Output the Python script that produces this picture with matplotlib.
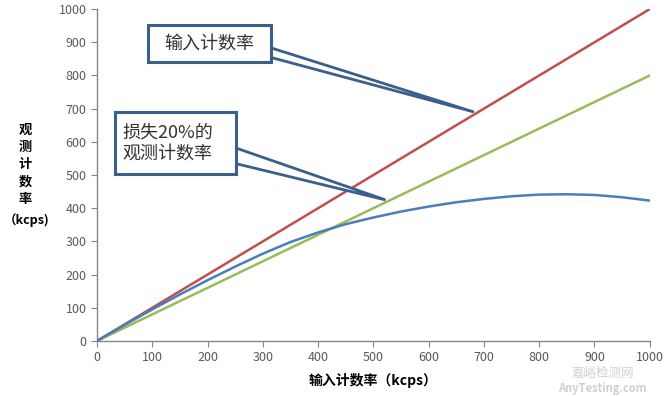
import matplotlib
matplotlib.use("Agg")
import matplotlib.pyplot as plt
from matplotlib.patches import Rectangle, Polygon

plt.rcParams['font.family'] = ['Noto Sans CJK SC', 'DejaVu Sans']

# input count rate (kcps)
x_input = [0, 1000]
y_input = [0, 1000]
# 20% loss line
y_loss20 = [0, 800]
x_obs = [0, 50, 100, 150, 200, 250, 300, 350, 400, 450, 500, 550, 600,
         650, 700, 750, 800, 850, 900, 950, 1000]
y_obs = [0, 48, 95, 140, 183, 224, 263, 298, 327, 352, 372, 390, 405,
         418, 428, 436, 441, 442, 440, 433, 423]

ticks = list(range(0, 1001, 100))

fig = plt.figure(figsize=(6.66, 3.96), dpi=100)
ax = fig.add_axes([0.1456, 0.139, 0.830, 0.838])

ax.plot(x_input, y_input, color='#C0504D', lw=1.8, zorder=3)
ax.plot(x_input, y_loss20, color='#9BBB59', lw=1.8, zorder=3)
ax.plot(x_obs, y_obs, color='#4A7EBB', lw=1.8, zorder=3)

ax.set_xlim(0, 1000)
ax.set_ylim(0, 1000)
ax.set_xticks(ticks)
ax.set_yticks(ticks)
ax.tick_params(colors='#868686', labelcolor='#595959', labelsize=9, length=4, direction='out')
for s in ['top', 'right']:
    ax.spines[s].set_visible(False)
for s in ['left', 'bottom']:
    ax.spines[s].set_color('#868686')
    ax.spines[s].set_linewidth(1.0)

ax.set_xlabel('输入计数率（kcps）', fontsize=10, fontweight='bold', labelpad=6)
fig.text(0.038, 0.585, '观\n测\n计\n数\n率', fontsize=9.5, fontweight='bold',
         ha='center', va='center', linespacing=1.3)
fig.text(0.040, 0.445, '（kcps)', fontsize=9, fontweight='bold', ha='center', va='center')

# callouts
edge = '#3A5F8B'
callouts = [
    ('输入计数率', (92, 840), 222, 112, [(300, 891), (300, 861)], (682, 690)),
    ('损失20%的\n观测计数率', (33, 503), 219, 187, [(240, 588), (240, 539)], (522, 425)),
]
for label, (bx, by), bw, bh, base, tip in callouts:
    ax.add_patch(Polygon([base[0], base[1], tip], closed=True, facecolor='white',
                         edgecolor=edge, lw=2.0, zorder=4, joinstyle='miter'))
    ax.add_patch(Rectangle((bx, by), bw, bh, facecolor='white', edgecolor=edge,
                           lw=2.2, zorder=5))
    if '\n' in label:
        ax.text(bx + 0.06 * bw, by + bh / 2, label, ha='left', va='center', fontsize=13,
                color='#333333', zorder=6, linespacing=1.2)
    else:
        ax.text(bx + bw / 2, by + bh / 2, label, ha='center', va='center', fontsize=13,
                color='#333333', zorder=6)

# watermark
fig.text(0.905, 0.058, '嘉峪检测网', fontsize=9, color='#d0d0d0', ha='center', va='center')
fig.text(0.905, 0.018, 'AnyTesting.com', fontsize=8, color='#d0d0d0', style='italic',
         fontweight='bold', ha='center', va='center')

fig.savefig('out.png', dpi=100)
